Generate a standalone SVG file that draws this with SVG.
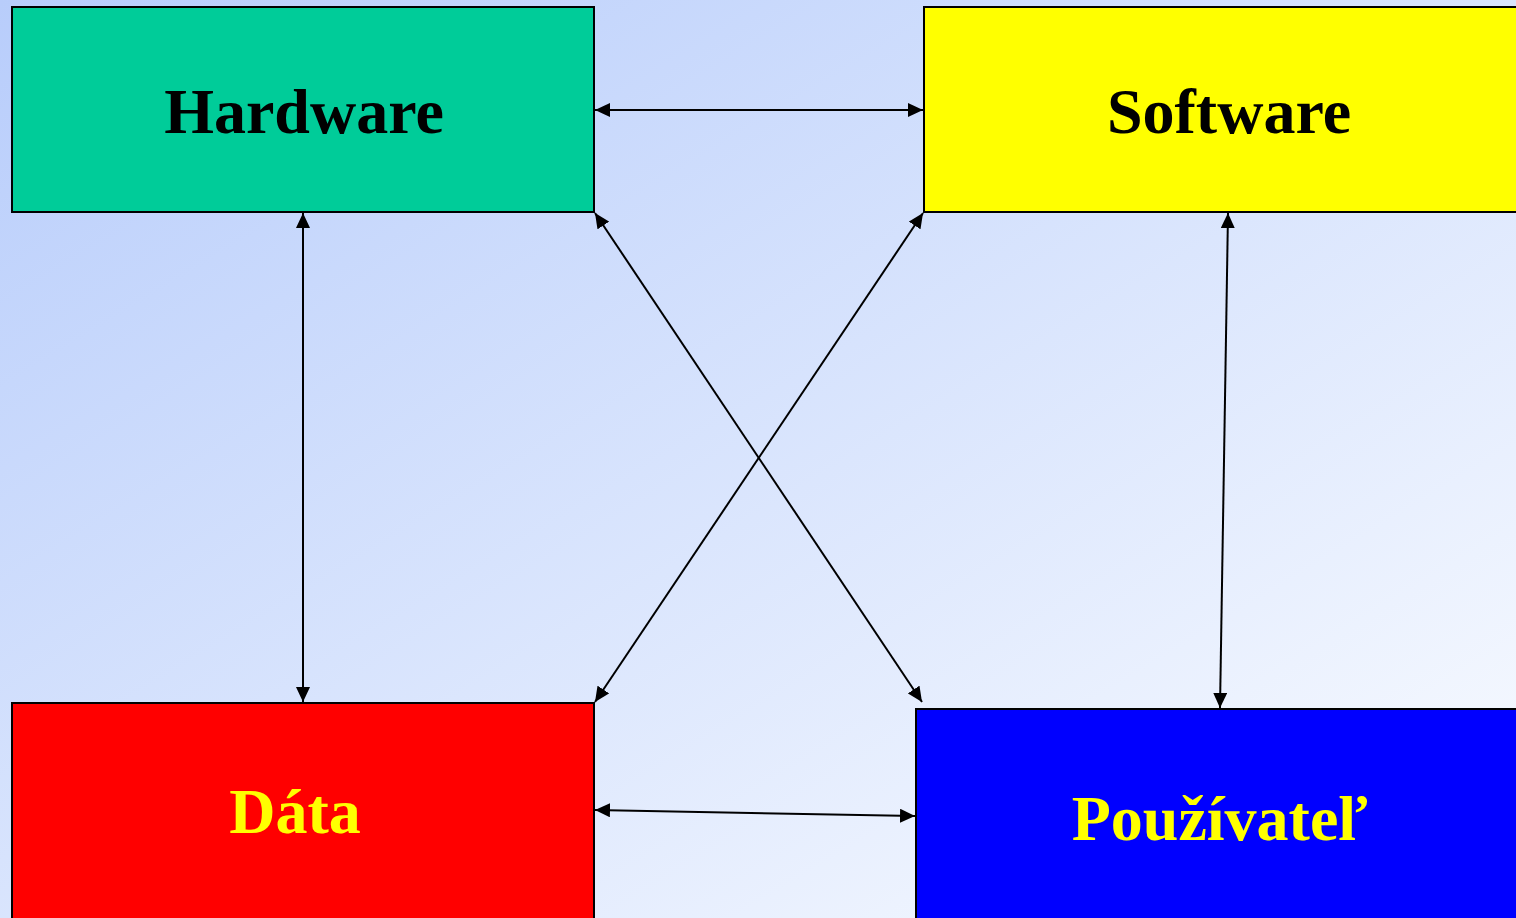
<svg xmlns="http://www.w3.org/2000/svg" width="1516" height="918" viewBox="0 0 1516 918">
<defs>
<linearGradient id="bg" x1="0" y1="0" x2="1" y2="1">
<stop offset="0" stop-color="#b8cdfb"/>
<stop offset="1" stop-color="#fafcff"/>
</linearGradient>
<marker id="ah" viewBox="0 0 15 14" refX="15" refY="7" markerWidth="15" markerHeight="14" markerUnits="userSpaceOnUse" orient="auto-start-reverse">
<path d="M0,0 L15,7 L0,14 Z" fill="#000"/>
</marker>
<style>
.box{stroke:#000;stroke-width:2}
.lbl{font-family:"Liberation Serif","Times New Roman",serif;font-weight:bold;font-size:64px;text-anchor:middle}
.c{stroke:#000;stroke-width:2;fill:none;marker-start:url(#ah);marker-end:url(#ah)}
</style>
</defs>
<rect width="1516" height="918" fill="url(#bg)"/>
<g id="connectors">
<line class="c" x1="595" y1="110" x2="923" y2="110"/>
<line class="c" x1="303" y1="213" x2="303" y2="702"/>
<line class="c" x1="1228" y1="213" x2="1220" y2="708"/>
<line class="c" x1="595" y1="213" x2="922" y2="702"/>
<line class="c" x1="923" y1="213" x2="595" y2="702"/>
<line class="c" x1="595" y1="810" x2="915" y2="816"/>
</g>
<g id="hardware">
<rect class="box" x="12" y="7" width="582" height="205" fill="#00cc99"/>
<text class="lbl" x="304" y="133" fill="#000">Hardware</text>
</g>
<g id="software">
<rect class="box" x="924" y="7" width="600" height="205" fill="#ffff00"/>
<text class="lbl" x="1229" y="133" fill="#000">Software</text>
</g>
<g id="data">
<rect class="box" x="12" y="703" width="582" height="225" fill="#ff0000"/>
<text class="lbl" x="295" y="833" fill="#ffff00">Dáta</text>
</g>
<g id="pouzivatel">
<rect class="box" x="916" y="709" width="610" height="220" fill="#0000ff"/>
<text class="lbl" x="1220" y="840" fill="#ffff00">Používateľ</text>
</g>
</svg>
